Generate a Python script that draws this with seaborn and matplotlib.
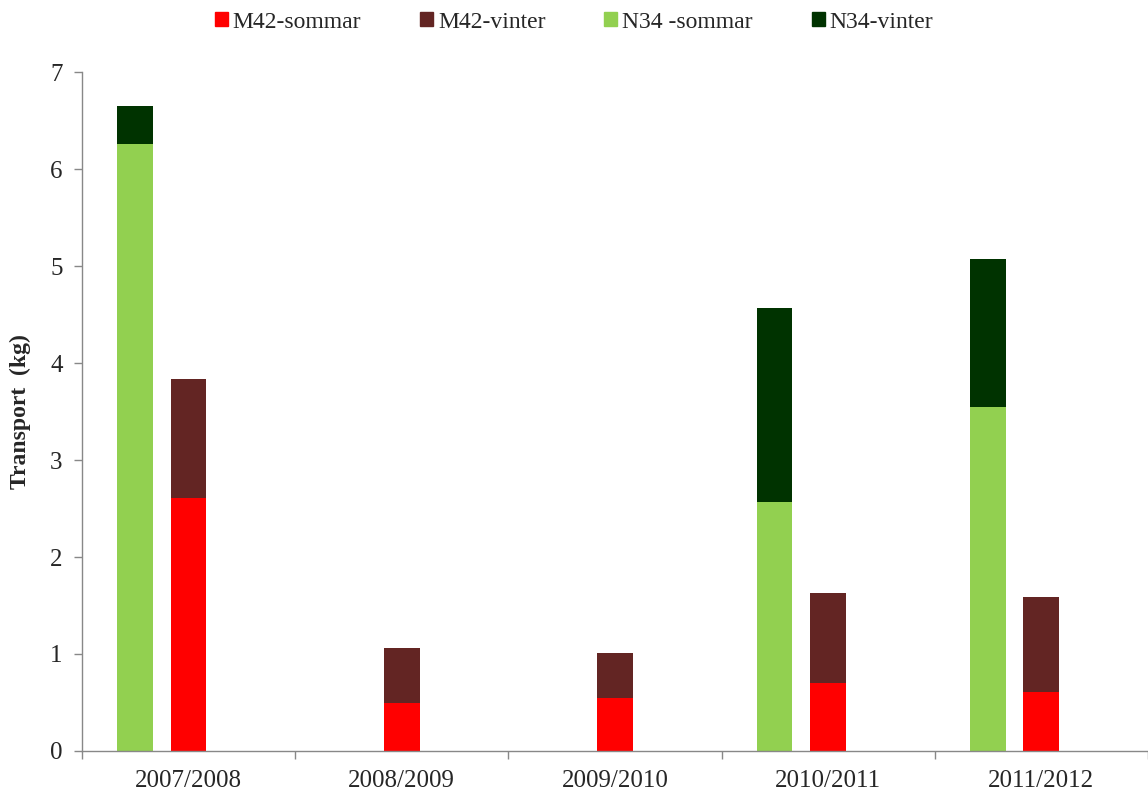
import pandas as pd
import matplotlib.pyplot as plt
import seaborn as sns
from matplotlib.patches import Patch
from matplotlib.ticker import FixedLocator

seasons = ['2007/2008', '2008/2009', '2009/2010', '2010/2011', '2011/2012']
n34_sommar = [6.26, 0.0, 0.0, 2.57, 3.55]
n34_vinter = [0.39, 0.0, 0.0, 2.00, 1.52]
m42_sommar = [2.61, 0.49, 0.55, 0.70, 0.61]
m42_vinter = [1.23, 0.57, 0.46, 0.93, 0.98]

c_m42_s = '#ff0000'
c_m42_v = '#632523'
c_n34_s = '#92d050'
c_n34_v = '#003300'

rows = []
for i, s in enumerate(seasons):
    rows.append({'season': s, 'station': 'N34', 'sommar': n34_sommar[i], 'total': n34_sommar[i] + n34_vinter[i]})
    rows.append({'season': s, 'station': 'M42', 'sommar': m42_sommar[i], 'total': m42_sommar[i] + m42_vinter[i]})
df = pd.DataFrame(rows)

sns.set_style('white')
plt.rcParams['font.family'] = ['Liberation Serif', 'DejaVu Serif']

fig = plt.figure(figsize=(11.48, 7.94), dpi=100)
ax = fig.add_axes([0.0714, 0.0542, 0.9286, 0.855])

hue_order = ['N34', 'M42', 'tom']
# total height drawn in winter colour, summer part drawn on top
sns.barplot(data=df, x='season', y='total', hue='station', hue_order=hue_order,
            palette={'N34': c_n34_v, 'M42': c_m42_v, 'tom': 'white'}, saturation=1,
            width=0.756, gap=0.333, order=seasons, ax=ax, legend=False,
            edgecolor='none', linewidth=0, errorbar=None)
sns.barplot(data=df, x='season', y='sommar', hue='station', hue_order=hue_order,
            palette={'N34': c_n34_s, 'M42': c_m42_s, 'tom': 'white'}, saturation=1,
            width=0.756, gap=0.333, order=seasons, ax=ax, legend=False,
            edgecolor='none', linewidth=0, errorbar=None)

ax.set_xlim(-0.5, 4.5)
ax.set_ylim(0, 7)
ax.set_yticks(range(0, 8))
ax.set_ylabel('Transport  (kg)', fontsize=17, fontweight='bold', labelpad=14)
ax.set_xlabel('')
ax.tick_params(axis='x', labelsize=18, length=0, pad=14)
ax.tick_params(axis='y', labelsize=18, length=6, width=1, color='#888888',
               direction='out', left=True, pad=8)
ax.xaxis.set_minor_locator(FixedLocator([-0.5, 0.5, 1.5, 2.5, 3.5, 4.5]))
ax.tick_params(axis='x', which='minor', length=6, width=1, color='#888888', direction='out', bottom=True)
for side in ['top', 'right']:
    ax.spines[side].set_visible(False)
for side in ['left', 'bottom']:
    ax.spines[side].set_color('#888888')
    ax.spines[side].set_linewidth(1)

handles = [Patch(color=c_m42_s, label='M42-sommar'),
           Patch(color=c_m42_v, label='M42-vinter'),
           Patch(color=c_n34_s, label='N34 -sommar'),
           Patch(color=c_n34_v, label='N34-vinter')]
fig.legend(handles=handles, loc='upper center', bbox_to_anchor=(0.5, 1.012), ncol=4,
           frameon=False, fontsize=17, handlelength=0.55, handleheight=0.55,
           handletextpad=0.2, columnspacing=2.5)

fig.savefig('out.png', dpi=100)
